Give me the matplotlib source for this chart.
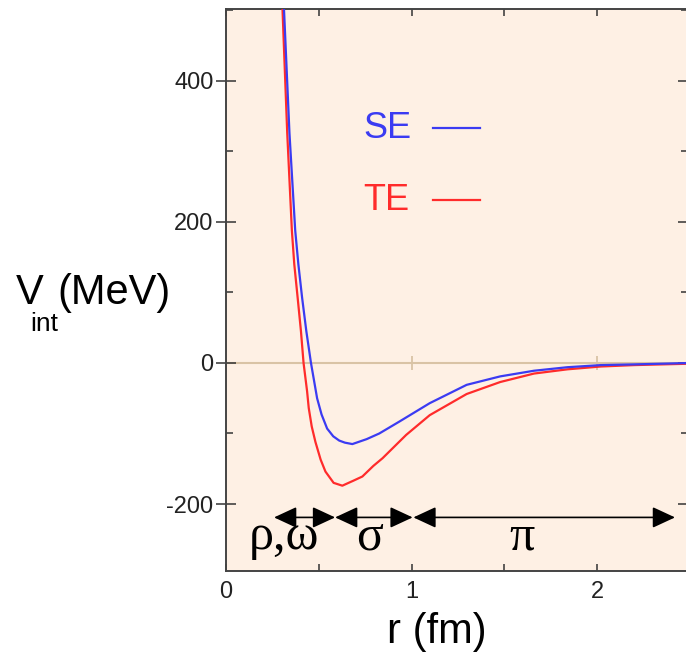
import numpy as np
import matplotlib
matplotlib.use('Agg')
import matplotlib.pyplot as plt
from matplotlib.patches import FancyArrowPatch
from matplotlib.ticker import MultipleLocator

plt.rcParams['axes.unicode_minus'] = False

# Interaction potential (r in fm, V in MeV)
r_se = [0.312, 0.342, 0.373, 0.390, 0.410, 0.433, 0.458, 0.491, 0.515, 0.545, 0.578,
        0.610, 0.641, 0.681, 0.758, 0.826, 0.935, 1.098, 1.297, 1.478, 1.660, 1.840,
        2.020, 2.200, 2.500]
v_se = [505, 326, 188, 140, 93, 45, 0, -50, -73, -93, -104,
        -110, -113, -115, -108, -100, -83, -57, -31, -19, -11, -6,
        -3, -2, 0]

r_te = [0.304, 0.330, 0.355, 0.368, 0.386, 0.404, 0.418, 0.437, 0.446, 0.462, 0.482,
        0.510, 0.536, 0.580, 0.627, 0.686, 0.735, 0.794, 0.844, 0.971, 1.098, 1.297,
        1.478, 1.660, 1.840, 2.020, 2.200, 2.500]
v_te = [505, 326, 188, 140, 93, 45, 0, -40, -64, -90, -112,
        -137, -154, -170, -174, -167, -161, -146, -135, -102, -74, -44,
        -27, -15, -9, -5, -3, -1]

# meson exchange ranges
ranges = [(0.259, 0.588), (0.588, 1.006), (1.010, 2.420)]
range_labels = ['ρ,ω', 'σ', 'π']
label_x = [0.313, 0.776, 1.593]

blue = '#3b3bf2'
red = '#ff2b2b'
bg = '#fef0e4'
tan = '#d9c3a5'

fig = plt.figure(figsize=(6.86, 6.55), dpi=100)
ax = fig.add_axes([226 / 686, 1 - 571 / 655, 462 / 686, 562 / 655])
ax.set_facecolor(bg)

ax.axhline(0, color=tan, lw=1.5, zorder=1)
ax.plot([1, 2], [0, 0], '|', ms=10, mew=1.3, color=tan, zorder=1)

ax.plot(r_te, v_te, color=red, lw=1.6, zorder=3)
ax.plot(r_se, v_se, color=blue, lw=1.6, zorder=3)

ax.set_xlim(0, 2.49)
ax.set_ylim(-295, 502)

# legend drawn by hand like the original
ax.text(0.739, 333, 'SE', color=blue, fontsize=26, family='Liberation Sans',
        va='center', ha='left')
ax.plot([1.116, 1.369], [333, 333], color=blue, lw=1.6)
ax.text(0.739, 231, 'TE', color=red, fontsize=26, family='Liberation Sans',
        va='center', ha='left')
ax.plot([1.116, 1.369], [231, 231], color=red, lw=1.6)

for (a, b), lab, lx in zip(ranges, range_labels, label_x):
    arr = FancyArrowPatch((a, -219), (b, -219),
                          arrowstyle='<|-|>,head_length=14,head_width=6.5',
                          mutation_scale=1, shrinkA=0, shrinkB=0,
                          color='black', lw=1.2, zorder=4)
    ax.add_patch(arr)
    ax.text(lx, -264, lab, fontsize=36, family='Liberation Serif',
            ha='center', va='baseline', zorder=5)

ax.xaxis.set_major_locator(MultipleLocator(1))
ax.xaxis.set_minor_locator(MultipleLocator(0.5))
ax.yaxis.set_major_locator(MultipleLocator(200))
ax.yaxis.set_minor_locator(MultipleLocator(100))

ax.tick_params(which='both', direction='in', top=True, right=True,
               color='#333333', width=1.1, length=5)
ax.tick_params(axis='y', which='major', direction='inout', length=14)
ax.tick_params(axis='y', labelsize=17, pad=2, labelcolor='#222222')
ax.tick_params(axis='x', labelsize=17, pad=7, labelcolor='#222222')
for lab in ax.get_xticklabels() + ax.get_yticklabels():
    lab.set_family('Liberation Sans')

for s in ax.spines.values():
    s.set_color('#444444')
    s.set_linewidth(1.4)

# axis titles
fig.text(437 / 686, 1 - 632 / 655, 'r (fm)', fontsize=30, family='Liberation Sans',
         ha='center', va='center')
fig.text(16 / 686, 1 - 293 / 655, 'V', fontsize=30, family='Liberation Sans',
         ha='left', va='center')
fig.text(30 / 686, 1 - 324 / 655, 'int', fontsize=19, family='Liberation Sans',
         ha='left', va='center')
fig.text(57 / 686, 1 - 293 / 655, '(MeV)', fontsize=30, family='Liberation Sans',
         ha='left', va='center')

fig.savefig('out.png', dpi=100, facecolor='white')
